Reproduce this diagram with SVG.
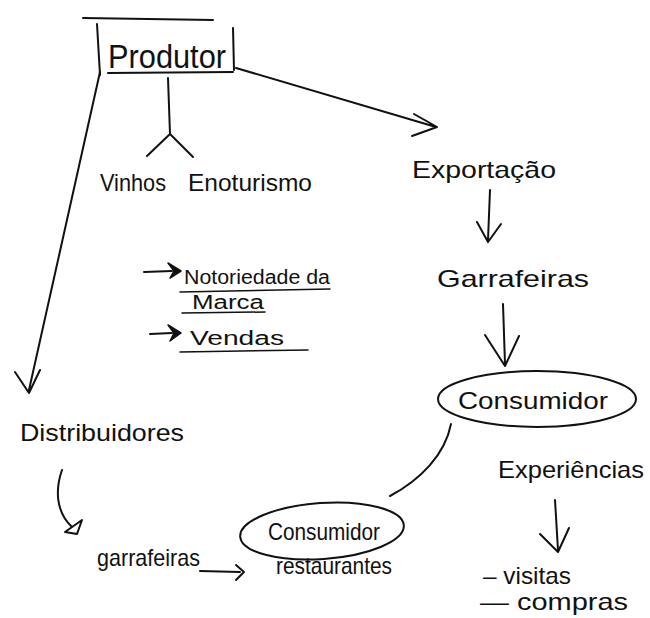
<svg xmlns="http://www.w3.org/2000/svg" width="650" height="618" viewBox="0 0 650 618">
  <style>
    .ink { fill: none; stroke: #111; stroke-width: 2; stroke-linecap: round; stroke-linejoin: round; }
    .thin { fill: none; stroke: #111; stroke-width: 1.5; stroke-linecap: round; }
    .head { fill: #111; stroke: #111; stroke-width: 1.5; stroke-linejoin: round; }
    text { font-family: "Liberation Sans", "DejaVu Sans", sans-serif; fill: #111; }
    .lbl { font-size: 24px; }
    .note { font-size: 20px; }
  </style>
  <rect width="650" height="618" fill="#fff"/>

  <!-- connectors -->
  <g id="connectors">
    <!-- Produtor stem and fork -->
    <path class="ink" d="M168,78 L170,134 M170,134 L147,156 M170,134 L193,157"/>
    <!-- Produtor to Distribuidores -->
    <path class="ink" d="M100,72 L29,390 M15,372 L29,393 L40,370"/>
    <!-- Produtor to Exportacao -->
    <path class="ink" d="M236,68 L436,127 M414,114 L437,127 L412,136"/>
    <!-- Exportacao to Garrafeiras -->
    <path class="ink" d="M490,190 L488,240 M477,222 L488,242 L501,224"/>
    <!-- Garrafeiras to Consumidor -->
    <path class="ink" d="M503,304 L505,364 M485,335 L505,366 L519,336"/>
    <!-- Consumidor to Consumidor restaurantes -->
    <path class="ink" d="M451,424 C445,455 420,480 390,496"/>
    <!-- Experiencias to visitas -->
    <path class="ink" d="M555,500 L558,550 M540,534 L558,552 L569,528"/>
    <!-- Distribuidores down curve -->
    <path class="ink" d="M62,470 C55,490 56,512 72,527 M65,532 L82,520 L77,534 Z"/>
    <!-- garrafeiras to restaurantes -->
    <path class="ink" d="M200,571 L240,572 M236,565 L244,572 L236,580"/>
    <!-- note bullets -->
    <path class="ink" d="M144,272 L172,271"/>
    <path class="head" d="M168,263 L181,271 L170,278 L174,271 Z"/>
    <path class="ink" d="M150,334 L172,333"/>
    <path class="head" d="M168,325 L181,333 L170,341 L174,333 Z"/>
  </g>

  <!-- nodes -->
  <g id="produtor">
    <path class="ink" d="M83,18 L213,20 M97,24 L100,75 M108,73 L233,72 M233,28 L234,70"/>
    <text x="108" y="68" font-size="34" textLength="118" lengthAdjust="spacingAndGlyphs">Produtor</text>
  </g>
  <g id="vinhos">
    <text class="lbl" x="100" y="191" textLength="66" lengthAdjust="spacingAndGlyphs">Vinhos</text>
  </g>
  <g id="enoturismo">
    <text class="lbl" x="188" y="191" textLength="124" lengthAdjust="spacingAndGlyphs">Enoturismo</text>
  </g>
  <g id="exportacao">
    <text class="lbl" x="412" y="178" font-size="26" textLength="144" lengthAdjust="spacingAndGlyphs">Exportação</text>
  </g>
  <g id="garrafeiras-top">
    <text class="lbl" x="437" y="287" font-size="28" textLength="152" lengthAdjust="spacingAndGlyphs">Garrafeiras</text>
  </g>
  <g id="consumidor">
    <ellipse class="ink" cx="537" cy="399" rx="99" ry="28"/>
    <text class="lbl" x="458" y="409" font-size="27" textLength="150" lengthAdjust="spacingAndGlyphs">Consumidor</text>
  </g>
  <g id="experiencias">
    <text class="lbl" x="498" y="478" textLength="146" lengthAdjust="spacingAndGlyphs">Experiências</text>
  </g>
  <g id="visitas">
    <text class="lbl" x="483" y="584" textLength="88" lengthAdjust="spacingAndGlyphs">– visitas</text>
  </g>
  <g id="compras">
    <text class="lbl" x="480" y="610" textLength="148" lengthAdjust="spacingAndGlyphs">— compras</text>
  </g>
  <g id="notas">
    <text class="note" x="184" y="284" textLength="146" lengthAdjust="spacingAndGlyphs">Notoriedade da</text>
    <path class="thin" d="M180,292 L330,289"/>
    <text class="note" x="192" y="309" textLength="72" lengthAdjust="spacingAndGlyphs">Marca</text>
    <path class="thin" d="M182,313 L265,312"/>
    <text class="note" x="190" y="345" font-size="24" textLength="94" lengthAdjust="spacingAndGlyphs">Vendas</text>
    <path class="thin" d="M180,352 L308,350"/>
  </g>
  <g id="distribuidores">
    <text class="lbl" x="20" y="441" font-size="26" textLength="164" lengthAdjust="spacingAndGlyphs">Distribuidores</text>
  </g>
  <g id="garrafeiras-bottom">
    <text class="lbl" x="97" y="566" textLength="103" lengthAdjust="spacingAndGlyphs">garrafeiras</text>
  </g>
  <g id="consumidor-restaurantes">
    <ellipse class="ink" cx="322" cy="531" rx="82" ry="28" transform="rotate(-4 322 531)"/>
    <text class="lbl" x="268" y="540" textLength="112" lengthAdjust="spacingAndGlyphs">Consumidor</text>
    <text class="lbl" x="276" y="574" textLength="116" lengthAdjust="spacingAndGlyphs">restaurantes</text>
  </g>
</svg>
